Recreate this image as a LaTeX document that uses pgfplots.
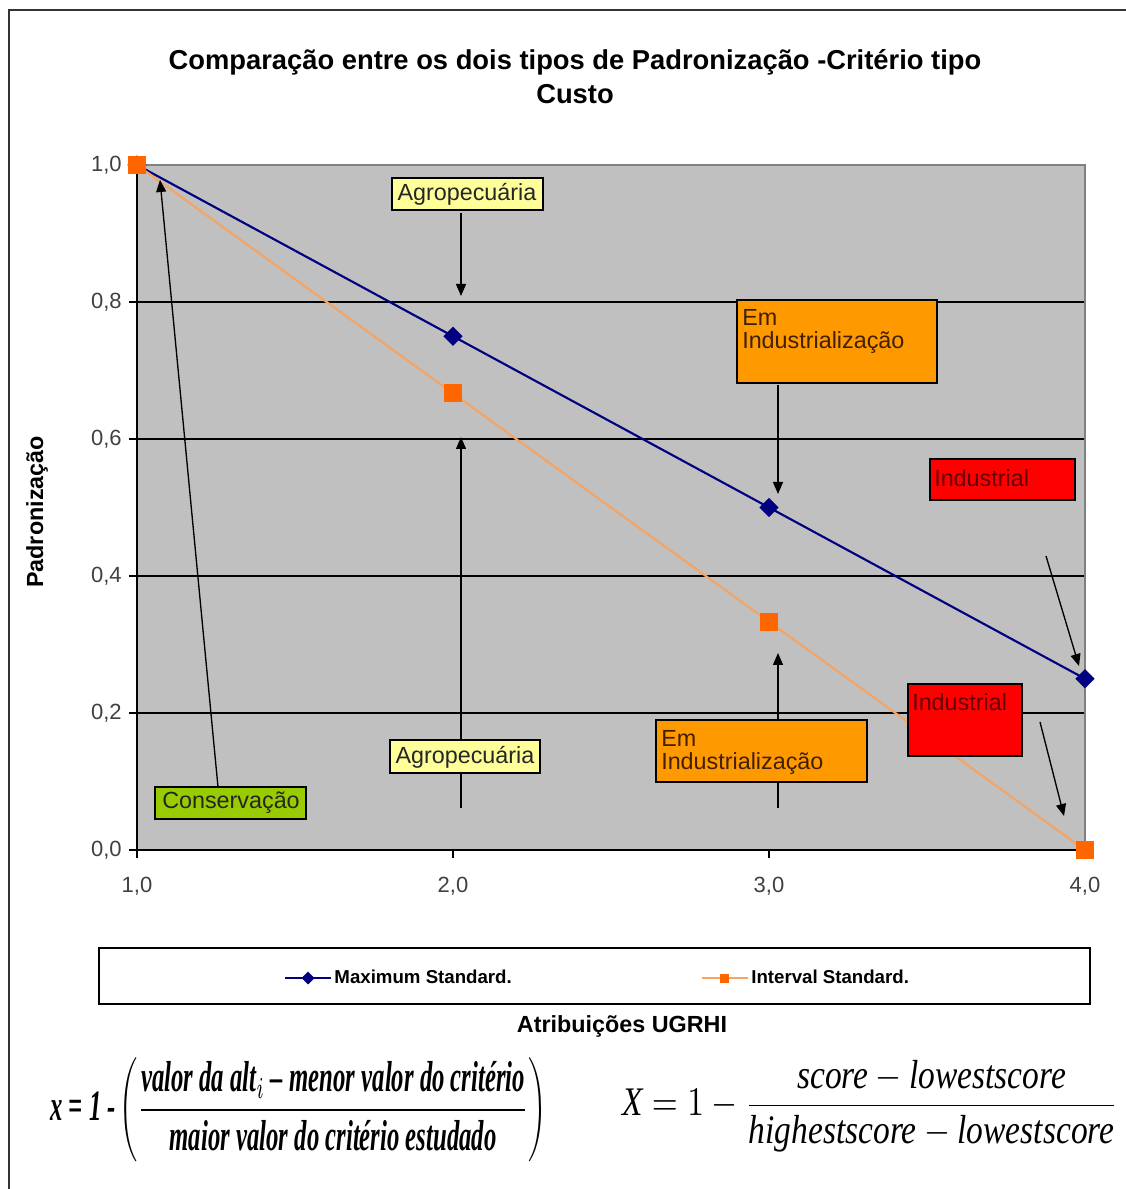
\documentclass[border=0pt]{standalone}
\usepackage{pgfplots}
\pgfplotsset{compat=1.18}
\usepackage{graphicx}
\usepackage{fontspec}
\setmainfont{Liberation Sans}
\newfontfamily\serifformula{Liberation Serif}
\usetikzlibrary{arrows.meta}
\definecolor{plotbg}{RGB}{192,192,192}
\definecolor{navyline}{RGB}{0,0,128}
\definecolor{orline}{RGB}{244,164,100}
\definecolor{ormark}{RGB}{255,102,0}
\definecolor{boxyellow}{RGB}{255,255,153}
\definecolor{boxorange}{RGB}{255,153,0}
\definecolor{boxred}{RGB}{255,0,0}
\definecolor{boxgreen}{RGB}{153,204,0}
\definecolor{ticktext}{RGB}{64,64,64}
\definecolor{txtbrown}{RGB}{64,32,0}
\definecolor{txtred}{RGB}{100,0,0}
\begin{document}
\begin{tikzpicture}
\begin{scope}[x=0.75pt,y=-0.75pt,shift={(-102.75pt,637.5pt)}]
\path[use as bounding box] (0,0) rectangle (1126,1189);
\draw[black!80,line width=1.5pt] (9,1189) -- (9,10) -- (1126,10);
\draw[black,line width=1pt,fill=white] (99,948) rectangle (1090,1004);
\end{scope}
\begin{axis}[at={(0pt,0pt)}, anchor=south west, scale only axis,
  width=711pt, height=513.75pt,
  xmin=1, xmax=4, ymin=0, ymax=1, clip=false,
  axis line style={draw=none},
  axis background/.style={fill=plotbg},
  xtick={1,2,3,4}, ytick={0,0.2,0.4,0.6,0.8,1},
  ymajorgrids, grid style={black,line width=1pt},
  tick align=outside, xtick pos=left, ytick pos=left,
  major tick length=6pt, tick style={black,line width=0.8pt},
  ticklabel style={font=\fontsize{16.5}{19}\selectfont, text=ticktext},
  xticklabel style={yshift=-11pt},
  yticklabel style={xshift=-2pt},
  /pgf/number format/.cd, use comma, fixed, fixed zerofill, precision=1, assume math mode=true, /pgfplots/.cd,
  legend style={at={(0.4863,-0.1869)}, anchor=center, draw=none, fill=none,
    legend columns=2, font=\fontsize{14}{16}\selectfont\bfseries,
    /tikz/every even column/.append style={column sep=140pt}},
  legend cell align=left,
  legend image code/.code={\draw[mark repeat=2,mark phase=2,#1] plot coordinates {(0pt,0pt) (17pt,0pt) (34pt,0pt)};},
  legend image post style={mark size=2.6pt},
]
\draw[black!50,line width=1pt] (rel axis cs:0,1) -- (rel axis cs:1,1) -- (rel axis cs:1,0);
\draw[black,line width=1pt] (rel axis cs:0,1) -- (rel axis cs:0,0) -- (rel axis cs:1,0);
\addplot[navyline, line width=1.6pt, mark=square*, mark size=4.3pt, mark options={rotate=45, fill=navyline, draw=navyline}]
  coordinates {(1,1) (2,0.75) (3,0.5) (4,0.25)};
\addlegendentry{Maximum Standard.}
\addplot[orline, line width=1.6pt, mark=square*, mark size=6pt, mark options={fill=ormark, draw=ormark}]
  coordinates {(1,1) (2,0.6667) (3,0.3333) (4,0)};
\addlegendentry{Interval Standard.}
\end{axis}
\begin{scope}[x=0.75pt,y=-0.75pt,shift={(-102.75pt,637.5pt)},
  arr/.style={line width=1pt, black, -{Triangle[length=9pt,width=7.5pt]}},
  bx/.style={draw=black, line width=0.8pt},
  ann/.style={font=\fontsize{17.5}{21}\selectfont, inner sep=0pt}]
% title and labels
\node[font=\fontsize{20.5}{24}\selectfont\bfseries] at (575,62) {Comparação entre os dois tipos de Padronização -Critério tipo};
\node[font=\fontsize{20.5}{24}\selectfont\bfseries] at (575,94) {Custo};
\node[rotate=90, font=\fontsize{17.5}{21}\selectfont\bfseries] at (37,512) {Padronização};
\node[font=\fontsize{17.5}{21}\selectfont\bfseries, inner sep=0pt] at (622,1026) {Atribuições UGRHI};
% arrows
\draw[arr] (461,213) -- (461,296);
\draw[arr] (778,385) -- (778,494);
\draw[arr] (1046,556) -- (1079,666);
\draw[arr] (1040,722) -- (1064,816);
\draw[arr] (778,808) -- (778,653);
\draw[arr] (461,808) -- (461,437);
\draw[arr] (218,787) -- (160,180);
% boxes
\filldraw[bx, fill=boxyellow] (392,178) rectangle (543,210);
\node[ann, text=black!85] at (467,194) {Agropecuária};
\filldraw[bx, fill=boxorange] (737,300) rectangle (937,383);
\node[ann, anchor=west, text=txtbrown] at (742,317) {Em};
\node[ann, anchor=west, text=txtbrown] at (742,343) {Industrialização};
\filldraw[bx, fill=boxred] (930,459) rectangle (1075,500);
\node[ann, anchor=west, text=txtred] at (934,478) {Industrial};
\filldraw[bx, fill=boxred] (908,684) rectangle (1022,756);
\node[ann, anchor=west, text=txtred] at (912,702) {Industrial};
\filldraw[bx, fill=boxorange] (656,720) rectangle (867,782);
\node[ann, anchor=west, text=txtbrown] at (661,738) {Em};
\node[ann, anchor=west, text=txtbrown] at (661,764) {Industrialização};
\filldraw[bx, fill=boxyellow] (390,740) rectangle (540,773);
\node[ann, text=black!85] at (465,757) {Agropecuária};
\filldraw[bx, fill=boxgreen] (155,787) rectangle (306,819);
\node[ann, text=black!85] at (231,803) {Conservação};
% formulas
\node[anchor=west, inner sep=0pt] at (50,1110) {\resizebox*{372pt}{78pt}{\serifformula\bfseries\itshape
  $\displaystyle \mbox{x = 1 -}\left(\frac{\mbox{valor da alt}_{i}\mbox{ – menor valor do critério}}{\mbox{maior valor do critério estudado}}\right)$}};
\node[anchor=west, inner sep=0pt] at (622,1106) {\resizebox*{372pt}{69pt}{\serifformula\itshape
  $\displaystyle \mbox{X} = 1 - \frac{\mbox{score} - \mbox{lowestscore}}{\mbox{highestscore} - \mbox{lowestscore}}$}};
\end{scope}
\end{tikzpicture}
\end{document}
